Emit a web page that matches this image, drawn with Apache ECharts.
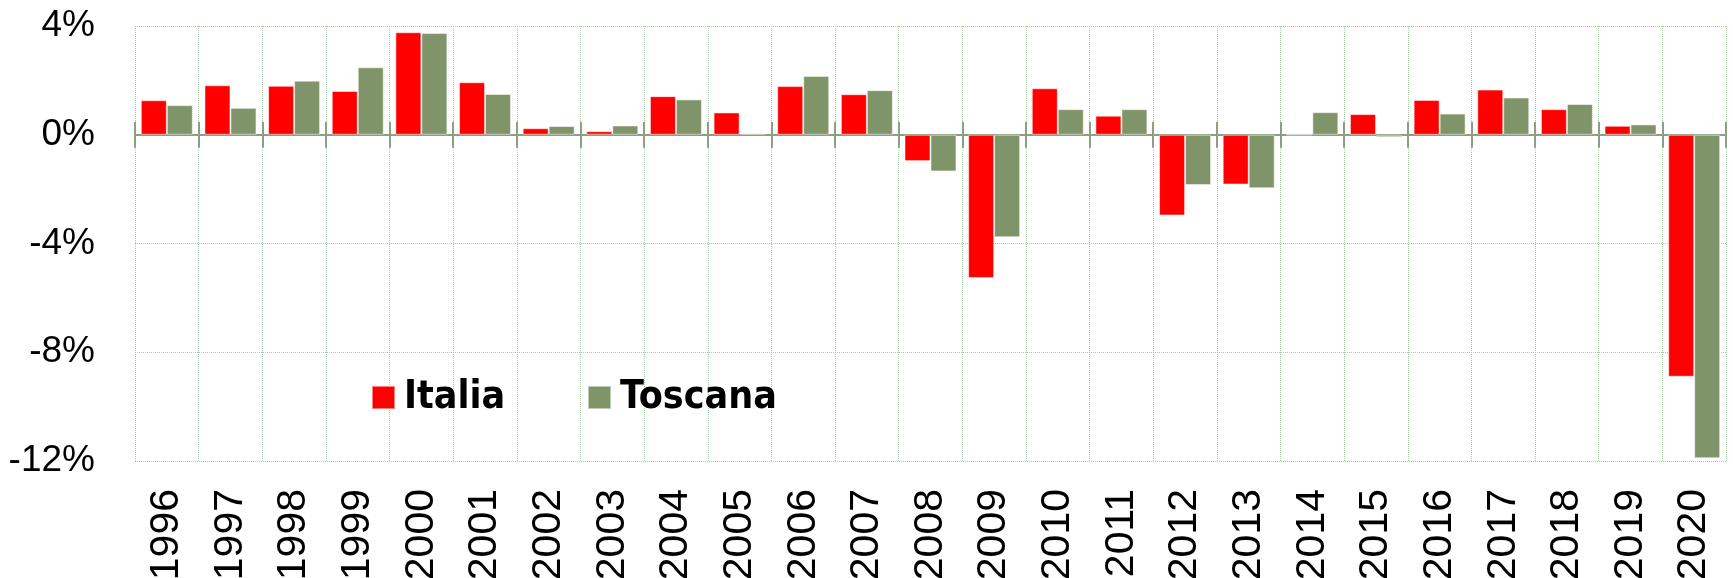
<!DOCTYPE html>
<html>
<head>
<meta charset="utf-8">
<title>Italia - Toscana</title>
<script src="https://cdn.jsdelivr.net/npm/echarts@6/dist/echarts.min.js"></script>
<style>
  html, body { margin: 0; padding: 0; background: #fff; }
  #chart { width: 1733px; height: 578px; }
</style>
</head>
<body>
<div id="chart"></div>
<script>
const years = ['1996', '1997', '1998', '1999', '2000', '2001', '2002', '2003', '2004', '2005',
  '2006', '2007', '2008', '2009', '2010', '2011', '2012', '2013', '2014', '2015',
  '2016', '2017', '2018', '2019', '2020']
const italia = [1.27, 1.82, 1.80, 1.61, 3.77, 1.93, 0.24, 0.13, 1.42, 0.82,
  1.79, 1.49, -0.97, -5.27, 1.71, 0.70, -2.97, -1.83, 0.0, 0.76,
  1.28, 1.66, 0.94, 0.33, -8.9]
const toscana = [1.09, 0.99, 1.99, 2.48, 3.74, 1.50, 0.32, 0.34, 1.30, 0.05,
  2.16, 1.64, -1.35, -3.77, 0.94, 0.94, -1.85, -1.97, 0.83, -0.09,
  0.78, 1.37, 1.13, 0.38, -11.9]
const yTicks = { min: -12, max: 4, interval: 4 }

const red = '#ff0000'
const green = '#80946a'
const axisGreen = '#8e9e80'
const gridGreen = '#a9cfa9'

const chart = echarts.init(document.getElementById('chart'))

// two axes sit on the zero line so the ticks cross it (one points down, one up)
const zeroAxis = (position, yIndex) => ({
  type: 'category',
  data: years,
  position,
  axisLine: {
    show: position === 'bottom',
    onZero: true,
    onZeroAxisIndex: yIndex,
    lineStyle: { color: axisGreen, width: 2 },
  },
  axisTick: { show: true, length: 13, interval: 0, lineStyle: { color: axisGreen, width: 2 } },
  axisLabel: { show: false },
  splitLine: { show: false },
})

const legendItem = (name, left) => ({
  data: [name],
  left,
  top: 378,
  padding: 0,
  itemWidth: 23,
  itemHeight: 23,
  icon: 'rect',
  textStyle: {
    fontFamily: "'DejaVu Sans Condensed', 'DejaVu Sans', sans-serif",
    fontWeight: 'bold',
    fontSize: 39,
    color: '#000',
    padding: [0, 0, 0, 4],
  },
})

const yBase = {
  type: 'value',
  min: yTicks.min,
  max: yTicks.max,
  interval: yTicks.interval,
  axisLine: { show: false },
  axisTick: { show: false },
}

chart.setOption({
  animation: false,
  grid: { left: 135, right: 7, top: 26, bottom: 117, containLabel: false, outerBoundsMode: 'none' },
  legend: [legendItem('Italia', 371), legendItem('Toscana', 587)],
  xAxis: [
    {
      type: 'category',
      data: years,
      position: 'bottom',
      axisLine: { show: false, onZero: false },
      axisTick: { show: false },
      axisLabel: {
        interval: 0,
        rotate: 90,
        margin: 28,
        fontSize: 41,
        fontFamily: "'Liberation Sans', Arial, sans-serif",
        color: '#000',
      },
      splitLine: { show: true, interval: 0, lineStyle: { color: gridGreen, type: 'dotted', width: 1 } },
    },
    zeroAxis('bottom', 0),
    zeroAxis('top', 1),
  ],
  yAxis: [
    {
      ...yBase,
      axisLabel: {
        formatter: '{value}%',
        margin: 40,
        fontSize: 37,
        fontFamily: "'Liberation Sans Narrow', 'Liberation Sans', sans-serif",
        color: '#000',
      },
      splitLine: { show: true, lineStyle: { color: gridGreen, type: 'dotted', width: 1 } },
    },
    { ...yBase, position: 'right', axisLabel: { show: false }, splitLine: { show: false } },
  ],
  series: [
    {
      name: 'Italia',
      type: 'bar',
      data: italia,
      barWidth: 26,
      barGap: '0%',
      itemStyle: { color: red, borderColor: 'rgba(255,255,255,0.5)', borderWidth: 1 },
    },
    {
      name: 'Toscana',
      type: 'bar',
      data: toscana,
      barWidth: 26,
      barGap: '0%',
      itemStyle: { color: green, borderColor: 'rgba(255,255,255,0.5)', borderWidth: 1 },
    },
  ],
})
</script>
</body>
</html>
